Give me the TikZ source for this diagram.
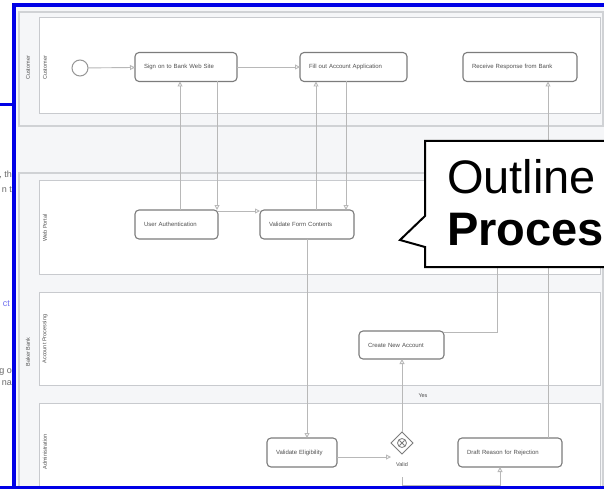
\documentclass[tikz,border=0pt]{standalone}
\usepackage{fontspec}
\setmainfont{Liberation Sans}
\usetikzlibrary{arrows.meta,shapes.geometric}
\definecolor{frameblue}{HTML}{0000E6}
\definecolor{bgpool}{HTML}{F5F6F8}
\definecolor{laneline}{HTML}{C8CACE}
\definecolor{boxline}{HTML}{7C7C7C}
\definecolor{flowline}{HTML}{B8B8B8}
\definecolor{smalltext}{HTML}{505050}
\definecolor{fragtext}{HTML}{6A6A6A}
\definecolor{fraglink}{HTML}{7070F0}
\begin{document}
\begin{tikzpicture}[x=1pt,y=-1pt,
  every node/.style={inner sep=0pt,outer sep=0pt},
  task/.style={draw=boxline,line width=1.1pt,rounded corners=4pt,fill=white,
    minimum height=29pt,inner xsep=9pt,align=left,
    font=\fontsize{6}{7}\selectfont,text=smalltext},
  flow/.style={draw=flowline,line width=0.9pt,-{Triangle[open,length=5pt,width=5pt]}},
  plainflow/.style={draw=flowline,line width=0.9pt},
  lanebox/.style={draw=laneline,line width=1pt,fill=white},
  poolbox/.style={draw=laneline!85,line width=1.5pt,fill=bgpool},
  lanelabel/.style={rotate=90,font=\fontsize{5.5}{6}\selectfont,text=smalltext},
  smalllabel/.style={font=\fontsize{5.5}{6}\selectfont,text=smalltext},
  frag/.style={font=\fontsize{9}{10}\selectfont,text=fragtext,anchor=base east},
  bigtext/.style={font=\fontsize{47}{52}\selectfont,anchor=base west,text=black}
]
\useasboundingbox (0,0) rectangle (604,489);
\clip (0,0) rectangle (604,489);
% page background
\fill[white] (0,0) rectangle (604,489);
\fill[bgpool] (14,5) rectangle (604,487);
% text fragments left of the frame
\node[frag] (f1) at (12,177) {, th};
\node[frag] (f2) at (12,192) {n t};
\node[frag,text=fraglink] (f3) at (10,306) {ct};
\node[frag] (f4) at (12,373) {g o};
\node[frag] (f5) at (12,385) {na};
% pools
\draw[poolbox] (19,12) rectangle (603,126);
\draw[poolbox] (19,173) rectangle (603,500);
% lanes
\draw[lanebox] (39,18) rectangle (600,114);
\draw[lanebox] (39,180) rectangle (600,274);
\draw[lanebox] (39,292) rectangle (600,385);
\draw[lanebox] (39,403) rectangle (600,500);
% pool and lane labels
\node[lanelabel] (pcust) at (28,68) {Customer};
\node[lanelabel] (lcust) at (45,68) {Customer};
\node[lanelabel] (lweb) at (45,228) {Web Portal};
\node[lanelabel] (pbank) at (28,352) {Baker Bank};
\node[lanelabel] (lacc) at (45,339) {Account Processing};
\node[lanelabel] (ladm) at (45,452) {Administration};
% events and tasks
\node[circle,draw=boxline!80,line width=1pt,fill=white,minimum size=16pt] (start) at (80,68) {};
\node[task,text width=84pt] (signon) at (186,67) {Sign on to Bank Web Site};
\node[task,text width=89pt] (fillout) at (353.5,67) {Fill out Account Application};
\node[task,text width=96pt] (receive) at (520,67) {Receive Response from Bank};
\node[task,text width=65pt] (userauth) at (176.5,224.5) {User Authentication};
\node[task,text width=76pt] (validate) at (307,224.5) {Validate Form Contents};
\node[task,text width=67pt,minimum height=28pt] (create) at (401.5,345) {Create New Account};
\node[task,text width=52pt] (elig) at (302,452.5) {Validate Eligibility};
\node[task,text width=86pt] (draft) at (510,452.5) {Draft Reason for Rejection};
\node[diamond,draw=boxline,line width=1pt,fill=white,minimum width=22pt,minimum height=22pt] (gw) at (402,443) {};
\draw[boxline,line width=0.8pt] (gw.center) circle (4.5pt);
\draw[boxline,line width=0.8pt] ([shift={(-2.6pt,-2.6pt)}]gw.center) -- ([shift={(2.6pt,2.6pt)}]gw.center)
  ([shift={(-2.6pt,2.6pt)}]gw.center) -- ([shift={(2.6pt,-2.6pt)}]gw.center);
\node[smalllabel] (valid) at (402,465) {Valid};
\node[smalllabel] (yes) at (423,396) {Yes};
% sequence / message flows
\draw[flow] (start) -- (signon);
\draw[flow] (signon) -- (fillout);
\draw[flow] (userauth.north -| 180,0) -- (signon.south -| 180,0);
\draw[flow] (signon.south -| 217,0) -- (userauth.north -| 217,0);
\draw[flow] (userauth.east |- 0,211) -- (validate.west |- 0,211);
\draw[flow] (validate.north -| 316,0) -- (fillout.south -| 316,0);
\draw[flow] (fillout.south -| 346,0) -- (validate.north -| 346,0);
\draw[flow] (validate.south) -- (elig.north -| validate.south);
\draw[flow] (elig.east |- 0,457) -- (gw.west |- 0,457);
\draw[flow] (gw.north) -- (create.south -| gw.north);
\coordinate (gwout) at (402,477);
\draw[flow] (gwout) -- (402,485) -- (500,485) -- (draft.south -| 500,0);
\draw[flow] (draft.north -| 548,0) -- (receive.south -| 548,0);
\draw[plainflow] (create.east |- 0,332) -- (497,332) -- (497,160) -- (548,160);
% callout
\draw[fill=white,draw=black,line width=2pt] (425,141) -- (612,141) -- (612,267) -- (425,267)
  -- (425,247) -- (400,240) -- (425,216) -- cycle;
\node[bigtext] (outl) at (447,193) {Outline};
\node[bigtext,font=\fontsize{47}{52}\selectfont\bfseries] (proc) at (447,245) {Process};
% blue frame
\fill[frameblue] (12,3) rectangle (604,7);
\fill[frameblue] (12,3) rectangle (16,489);
\fill[frameblue] (0,103.5) rectangle (14,106.5);
\fill[frameblue] (0,486) rectangle (604,489);
\end{tikzpicture}
\end{document}
